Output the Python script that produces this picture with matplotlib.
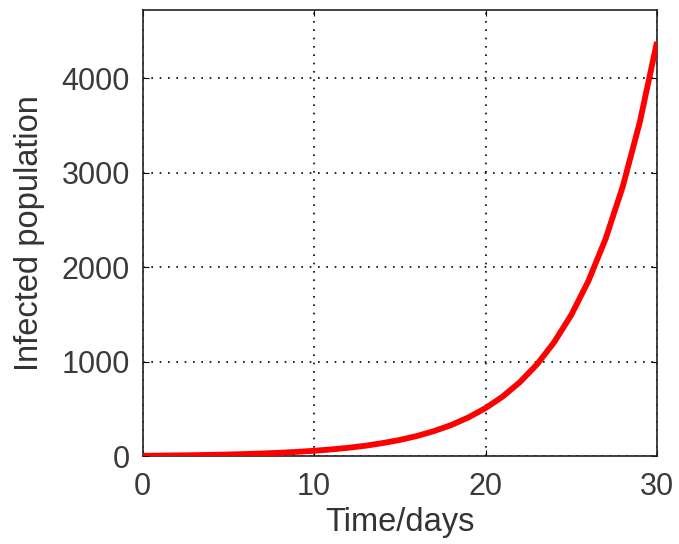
import numpy as np
import matplotlib
matplotlib.use("Agg")
import matplotlib.pyplot as plt

# values (one per day)
days = list(range(0, 31))
infected = [6.9, 8.6, 10.7, 13.2, 16.4, 20.3, 25.2, 31.2, 38.7, 48, 59.5,
            73.7, 91.4, 113, 141, 174, 216, 268, 332, 412, 511,
            633, 785, 973, 1207, 1496, 1855, 2300, 2852, 3536, 4384]

xticks = [0, 10, 20, 30]
yticks = [0, 1000, 2000, 3000, 4000]

plt.rcParams['font.family'] = ['Liberation Sans', 'DejaVu Sans']

fig = plt.figure(figsize=(6.79, 5.44), dpi=100)
ax = fig.add_axes([0.21, 0.161, 0.7576, 0.8205])
ax.plot(days, infected, color='#ff0000', lw=4.2, solid_capstyle='butt', zorder=3)

ax.set_xlim(0, 30)
ax.set_ylim(0, 4720)
ax.set_xticks(xticks)
ax.set_yticks(yticks)
ax.tick_params(direction='in', length=4, labelsize=22, labelcolor='#3a3a3a')
ax.tick_params(axis='x', pad=11)
ax.tick_params(axis='y', pad=9)
ax.tick_params(top=True, right=True)
ax.grid(True, color='black', linestyle=(0, (1, 4)), linewidth=1.2)
for s in ax.spines.values():
    s.set_linewidth(1.2)
    s.set_color('#222222')

ax.set_xlabel('Time/days', fontsize=23.5, color='#333333', labelpad=4)
ax.set_ylabel('Infected population', fontsize=23.5, color='#333333', labelpad=12)

plt.savefig('out.png', dpi=100)
